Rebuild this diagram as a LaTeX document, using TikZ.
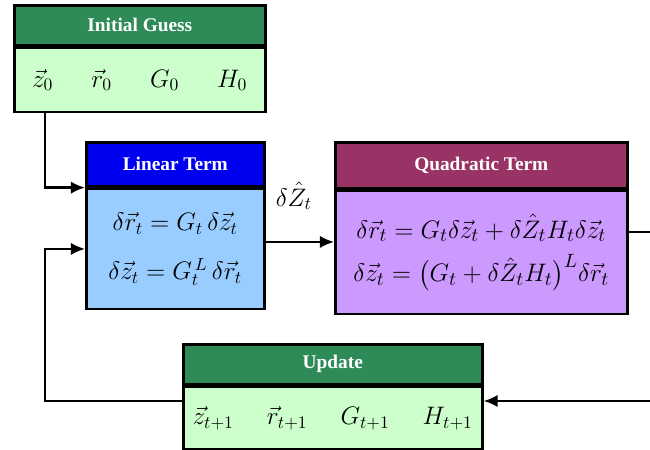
\documentclass[tikz,border=0pt]{standalone}
\usepackage{amsmath}
\usepackage{fontspec}
\setmainfont{Liberation Serif}
\usetikzlibrary{arrows.meta}
\definecolor{headgreen}{RGB}{46,139,87}
\definecolor{bodygreen}{RGB}{204,255,204}
\definecolor{headblue}{RGB}{0,0,240}
\definecolor{bodyblue}{RGB}{153,204,255}
\definecolor{headplum}{RGB}{153,51,102}
\definecolor{bodyviolet}{RGB}{204,153,255}
\begin{document}
\begin{tikzpicture}[x=0.02cm, y=-0.02cm,
    head/.style={draw, line width=1.5pt, anchor=north west, inner sep=0pt,
        text=white, font=\fontsize{11}{13}\selectfont\bfseries},
    body/.style={draw, line width=1.5pt, anchor=north west, inner sep=0pt,
        font=\Large, align=center},
    link/.style={-{Latex[length=8pt,width=7pt]}, line width=1.3pt}]
    \useasboundingbox (0,0) rectangle (650,450);

    % Initial Guess
    \node[head, fill=headgreen, minimum width=5.02cm, minimum height=0.8cm] (inithead) at (13,4) {Initial Guess};
    \node[body, fill=bodygreen, minimum width=5.02cm, minimum height=1.28cm] (initbody) at (inithead.south west)
        {$\vec z_0\hspace{1.5em}\vec r_0\hspace{1.5em}G_0\hspace{1.5em}H_0$};

    % Linear Term
    \node[head, fill=headblue, minimum width=3.56cm, minimum height=0.88cm] (linhead) at (85,141) {Linear Term};
    \node[body, fill=bodyblue, minimum width=3.56cm, minimum height=2.4cm] (linbody) at (linhead.south west)
        {$\delta\vec r_t = G_t\,\delta\vec z_t$\\[10pt]
         $\delta\vec z_t = G_t^{\,L}\,\delta\vec r_t$};

    % Quadratic Term
    \node[head, fill=headplum, minimum width=5.84cm, minimum height=0.92cm] (quadhead) at (334,141) {Quadratic Term};
    \node[body, fill=bodyviolet, minimum width=5.84cm, minimum height=2.46cm,
        font=\fontsize{15}{18}\selectfont] (quadbody) at (quadhead.south west)
        {$\delta\vec r_t = G_t\delta\vec z_t + \delta\hat Z_t H_t\delta\vec z_t$\\[7pt]
         $\delta\vec z_t = \bigl(G_t + \delta\hat Z_t H_t\bigr)^{L}\delta\vec r_t$};

    % Update
    \node[head, fill=headgreen, minimum width=5.98cm, minimum height=0.8cm] (updhead) at (182,343) {Update};
    \node[body, fill=bodygreen, minimum width=5.98cm, minimum height=1.24cm] (updbody) at (updhead.south west)
        {$\vec z_{t+1}\hspace{1.3em}\vec r_{t+1}\hspace{1.3em}G_{t+1}\hspace{1.3em}H_{t+1}$};

    % ends of the loop at the right edge
    \coordinate (exit) at (650,232);
    \coordinate (back) at (650,401);

    % connectors
    \draw[link] ([xshift=0.64cm]initbody.south west) |- (linbody.north west);
    \draw[link] (updbody.west |- back) -| ([xshift=-0.8cm]linbody.west) -- (linbody.west);
    \draw[link] ([yshift=0.14cm]linbody.east) -- ([yshift=0.14cm]linbody.east -| quadbody.west)
        node[midway, above=0.5cm, xshift=-0.12cm, font=\Large] (dz) {$\delta\hat Z_t$};
    \draw[line width=1.3pt] (quadbody.east |- exit) -- (exit);
    \draw[link] (back) -- (back -| updbody.east);
\end{tikzpicture}
\end{document}
